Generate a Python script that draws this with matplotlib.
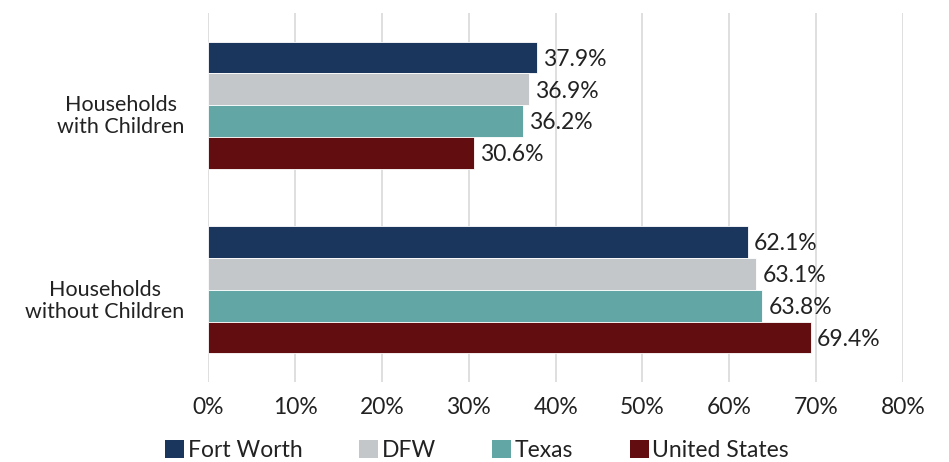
import numpy as np
import matplotlib.pyplot as plt
import matplotlib.transforms as mtransforms
from matplotlib.patches import Patch

plt.rcParams['font.family'] = ['Lato', 'DejaVu Sans']

categories = ["Households\nwith Children", "Households\nwithout Children"]
series = ["Fort Worth", "DFW", "Texas", "United States"]
fort_worth = [37.9, 62.1]
dfw = [36.9, 63.1]
texas = [36.2, 63.8]
united_states = [30.6, 69.4]
colors = ["#1B365D", "#C4C7CA", "#62A6A5", "#620E10"]

values = [fort_worth, dfw, texas, united_states]
fs = 16.5
tc = "#222222"

fig = plt.figure(figsize=(9.49, 4.62), dpi=100)
ax = fig.add_axes([0.2195, 0.1732, 0.9515 - 0.2195, 0.972 - 0.1732])

y = np.arange(len(categories))
h = 0.1725
for i, (name, vals, c) in enumerate(zip(series, values, colors)):
    pos = y + (i - 1.5) * h
    ax.barh(pos, vals, height=h, color=c, edgecolor="white", linewidth=0.6, label=name, zorder=2)
    for p, v in zip(pos, vals):
        ax.text(v + 0.7, p + 0.01, f"{v:.1f}%", va="center", ha="left", fontsize=fs, color=tc)

ax.set_ylim(1.5, -0.5)
ax.set_xlim(0, 80)
ax.set_xticks(np.arange(0, 81, 10))
ax.set_xticklabels([f"{t}%" for t in range(0, 81, 10)], fontsize=fs, color=tc)
ax.set_yticks([])
ax.tick_params(axis="x", length=0, pad=11)
ax.grid(axis="x", color="#D9D9D9", linewidth=1.2, zorder=0)
for s in ax.spines.values():
    s.set_visible(False)

# category labels sit a bit below the group centre, as in the original
trans = mtransforms.blended_transform_factory(ax.transAxes, ax.transData)
for yi, lab in zip(y, categories):
    ax.text(-0.034, yi + 0.06, lab, transform=trans, ha="right", va="center",
            fontsize=15.5, color=tc, linespacing=1.15, multialignment="center")

handles = [Patch(facecolor=c, label=n) for n, c in zip(series, colors)]
fig.legend(handles=handles, loc="center", bbox_to_anchor=(0.5027, 0.024), ncol=4, frameon=False,
           fontsize=fs, handlelength=0.83, handleheight=0.83, handletextpad=0.17,
           columnspacing=2.45, labelcolor=tc)

fig.savefig("out.png", dpi=100)
